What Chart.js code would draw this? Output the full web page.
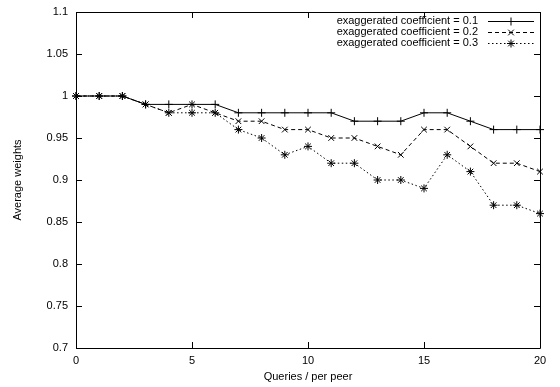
<!DOCTYPE html>
<html>
<head>
<meta charset="utf-8">
<script src="https://cdn.jsdelivr.net/npm/chart.js@4/dist/chart.umd.min.js"></script>
<style>
  html, body { margin: 0; padding: 0; background: #fff; }
  #wrap { width: 560px; height: 387px; }
</style>
</head>
<body>
<div id="wrap"><canvas id="weights_chart"></canvas></div>
<script>
// queries per peer
var queries = [0, 1, 2, 3, 4, 5, 6, 7, 8, 9, 10, 11, 12, 13, 14, 15, 16, 17, 18, 19, 20];
var coef01 = [1, 1, 1, 0.99, 0.99, 0.99, 0.99, 0.98, 0.98, 0.98, 0.98, 0.98, 0.97, 0.97, 0.97, 0.98, 0.98, 0.97, 0.96, 0.96, 0.96];
var coef02 = [1, 1, 1, 0.99, 0.98, 0.99, 0.98, 0.97, 0.97, 0.96, 0.96, 0.95, 0.95, 0.94, 0.93, 0.96, 0.96, 0.94, 0.92, 0.92, 0.91];
var coef03 = [1, 1, 1, 0.99, 0.98, 0.98, 0.98, 0.96, 0.95, 0.93, 0.94, 0.92, 0.92, 0.90, 0.90, 0.89, 0.93, 0.91, 0.87, 0.87, 0.86];
var seriesLabels = ["exaggerated coefficient = 0.1", "exaggerated coefficient = 0.2", "exaggerated coefficient = 0.3"];
var xTicks = [0, 5, 10, 15, 20];
var yTicks = [0.7, 0.75, 0.8, 0.85, 0.9, 0.95, 1, 1.05, 1.1];
var xTitle = 'Queries / per peer';
var yTitle = 'Average weights';

var FONT = "'Liberation Sans', Arial, Helvetica, sans-serif";

function toPoints(ys) {
    return ys.map(function (y, i) { return { x: queries[i], y: y }; });
}

var styles = [
    { dash: [], point: 'cross' },
    { dash: [4, 3], point: 'crossRot' },
    { dash: [1.5, 2.5], point: 'star' }
];

var datasets = [coef01, coef02, coef03].map(function (ys, i) {
    return {
        label: seriesLabels[i],
        data: toPoints(ys),
        borderColor: '#000',
        backgroundColor: '#000',
        borderWidth: 1,
        borderDash: styles[i].dash,
        pointStyle: styles[i].point,
        pointRadius: 4,
        pointBorderWidth: 1,
        pointBorderColor: '#000',
        tension: 0,
        clip: false
    };
});

// frame, inward ticks on all four sides and axis text, gnuplot style
var framePlugin = {
    id: 'frame',
    beforeDatasetsDraw: function (chart) {
        var ctx = chart.ctx, a = chart.chartArea;
        var xs = chart.scales.x, ys = chart.scales.y;
        var len = 6;
        ctx.save();
        ctx.strokeStyle = '#000';
        ctx.lineWidth = 1;
        ctx.beginPath();
        ctx.rect(Math.round(a.left) + 0.5, Math.round(a.top) + 0.5,
                 Math.round(a.right - a.left), Math.round(a.bottom - a.top));
        ctx.stroke();
        ctx.beginPath();
        xTicks.forEach(function (v) {
            var px = Math.round(xs.getPixelForValue(v)) + 0.5;
            ctx.moveTo(px, a.bottom); ctx.lineTo(px, a.bottom - len);
            ctx.moveTo(px, a.top); ctx.lineTo(px, a.top + len);
        });
        yTicks.forEach(function (v) {
            var py = Math.round(ys.getPixelForValue(v)) + 0.5;
            ctx.moveTo(a.left, py); ctx.lineTo(a.left + len, py);
            ctx.moveTo(a.right, py); ctx.lineTo(a.right - len, py);
        });
        ctx.stroke();

        ctx.fillStyle = '#000';
        ctx.font = '11px ' + FONT;
        ctx.textBaseline = 'middle';
        ctx.textAlign = 'right';
        yTicks.forEach(function (v) {
            ctx.fillText(String(+v.toFixed(2)), a.left - 8, ys.getPixelForValue(v));
        });
        ctx.textAlign = 'center';
        xTicks.forEach(function (v) {
            ctx.fillText(String(v), xs.getPixelForValue(v), a.bottom + 13);
        });
        ctx.fillText(xTitle, (a.left + a.right) / 2, a.bottom + 29);
        ctx.save();
        ctx.translate(18, (a.top + a.bottom) / 2);
        ctx.rotate(-Math.PI / 2);
        ctx.fillText(yTitle, 0, 0);
        ctx.restore();
        ctx.restore();
    }
};

// key in the top right corner
var keyPlugin = {
    id: 'key',
    afterDatasetsDraw: function (chart) {
        var ctx = chart.ctx, a = chart.chartArea;
        var textRight = a.right - 62, lineL = a.right - 52, lineR = a.right - 6;
        ctx.save();
        ctx.font = '11px ' + FONT;
        ctx.fillStyle = '#000';
        ctx.textAlign = 'right';
        ctx.textBaseline = 'middle';
        chart.data.datasets.forEach(function (ds, i) {
            var y = a.top + 9 + i * 11;
            ctx.fillText(ds.label, textRight, y);
            ctx.beginPath();
            ctx.setLineDash(ds.borderDash);
            ctx.strokeStyle = '#000';
            ctx.lineWidth = 1;
            ctx.moveTo(lineL, y + 0.5);
            ctx.lineTo(lineR, y + 0.5);
            ctx.stroke();
            ctx.setLineDash([]);
            Chart.helpers.drawPoint(ctx, { pointStyle: ds.pointStyle, radius: 4, borderWidth: 1 }, (lineL + lineR) / 2, y + 0.5);
        });
        ctx.restore();
    }
};

var chart = new Chart(document.getElementById('weights_chart'), {
    type: 'line',
    data: { datasets: datasets },
    options: {
        responsive: true,
        maintainAspectRatio: false,
        animation: false,
        events: [],
        layout: { padding: { top: 12, right: 20, left: 0, bottom: 0 } },
        plugins: {
            legend: { display: false },
            tooltip: { enabled: false }
        },
        scales: {
            x: {
                type: 'linear',
                min: 0,
                max: 20,
                afterBuildTicks: function (scale) {
                    scale.ticks = xTicks.map(function (v) { return { value: v }; });
                },
                afterFit: function (scale) { scale.height = 39; },
                grid: { display: false },
                border: { display: false },
                ticks: { display: false }
            },
            y: {
                type: 'linear',
                min: 0.7,
                max: 1.1,
                afterBuildTicks: function (scale) {
                    scale.ticks = yTicks.map(function (v) { return { value: v }; });
                },
                afterFit: function (scale) { scale.width = 76; },
                grid: { display: false },
                border: { display: false },
                ticks: { display: false }
            }
        }
    },
    plugins: [framePlugin, keyPlugin]
});
</script>
</body>
</html>
